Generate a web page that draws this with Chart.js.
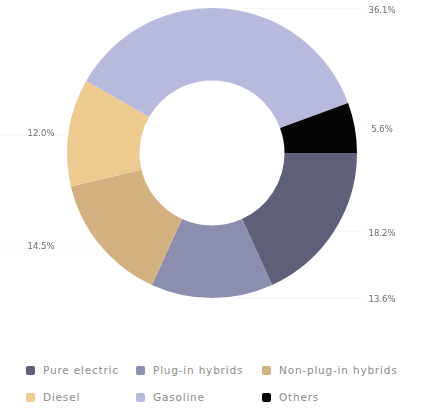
<!DOCTYPE html>
<html>
<head>
<meta charset="utf-8">
<script src="https://cdn.jsdelivr.net/npm/chart.js@4.4.1/dist/chart.umd.min.js"></script>
<style>
  html, body { margin: 0; padding: 0; background: #fff; }
  body { width: 429px; height: 410px; overflow: hidden; position: relative; font-family: "DejaVu Sans", "Noto Sans", sans-serif; }
  #wrap { position: absolute; left: 0; top: 0; width: 429px; height: 310px; }
  #legend {
    position: absolute; left: 26px; top: 362px;
    display: grid; grid-template-columns: 110px 126px auto; row-gap: 11px;
    font-size: 10.5px; color: #8c8c8c; letter-spacing: 0.8px;
  }
  #legend .item { display: flex; align-items: center; height: 16px; white-space: nowrap; }
  #legend .box { width: 9px; height: 9px; border-radius: 2px; margin-right: 8px; flex: none; }
</style>
</head>
<body>
<div id="wrap"><canvas id="donut"></canvas></div>
<div id="legend"></div>
<script>
// data
const categories = ['Pure electric', 'Plug-in hybrids', 'Non-plug-in hybrids', 'Diesel', 'Gasoline', 'Others'];
const shares = [18.2, 13.6, 14.5, 12.0, 36.1, 5.6];
const colours = ['#5d6078', '#8b8eaf', '#d3b07f', '#edca90', '#b7badc', '#050505'];

// percent labels outside the ring, lined up in a column on each side
const sideLabels = {
  id: 'sideLabels',
  afterDatasetsDraw(chart) {
    const ctx = chart.ctx;
    const meta = chart.getDatasetMeta(0);
    ctx.save();
    ctx.font = '8.5px "DejaVu Sans", sans-serif';
    ctx.textBaseline = 'middle';
    meta.data.forEach((arc, i) => {
      const mid = (arc.startAngle + arc.endAngle) / 2;
      const r = arc.outerRadius;
      const y = arc.y + r * Math.sin(mid) + 2;
      const right = Math.cos(mid) > -0.01;
      const txt = shares[i].toFixed(1) + '%';
      const dy = y - arc.y;
      const edge = Math.abs(dy) < r ? Math.sqrt(r * r - dy * dy) : 0;
      ctx.strokeStyle = 'rgba(0,0,0,0.04)';
      ctx.lineWidth = 1;
      ctx.beginPath();
      if (right) {
        ctx.moveTo(arc.x + edge + 4, y - 2);
        ctx.lineTo(364, y - 2);
      } else {
        ctx.moveTo(arc.x - edge - 4, y + 1);
        ctx.lineTo(0, y + 1);
      }
      ctx.stroke();
      ctx.fillStyle = '#6e6e6e';
      ctx.textAlign = 'center';
      ctx.fillText(txt, right ? 382 : 41, y);
    });
    ctx.restore();
  }
};

new Chart(document.getElementById('donut'), {
  type: 'doughnut',
  data: {
    labels: categories,
    datasets: [{
      data: shares,
      backgroundColor: colours,
      borderWidth: 0
    }]
  },
  options: {
    responsive: true,
    maintainAspectRatio: false,
    animation: false,
    rotation: 90,
    cutout: '50%',
    layout: { padding: { left: 0, right: 5, top: 8, bottom: 12 } },
    plugins: {
      legend: { display: false },
      tooltip: { enabled: false }
    }
  },
  plugins: [sideLabels]
});

// legend in three columns
const legend = document.getElementById('legend');
categories.forEach((name, i) => {
  const item = document.createElement('div');
  item.className = 'item';
  item.innerHTML = '<span class="box" style="background:' + colours[i] + '"></span>' + name;
  legend.appendChild(item);
});
</script>
</body>
</html>
